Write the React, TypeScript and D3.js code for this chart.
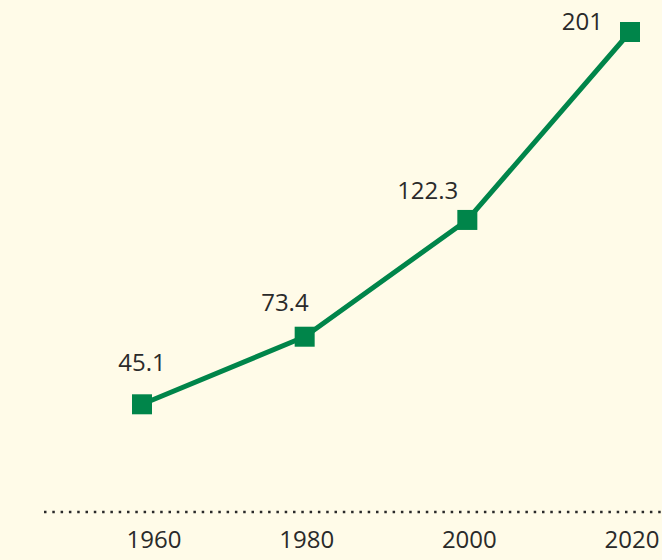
import React from "react";
import * as d3 from "d3";

// data
const years = [1960, 1980, 2000, 2020];
const values = [45.1, 73.4, 122.3, 201];
const valueLabels = ["45.1", "73.4", "122.3", "201"];

const width = 662;
const height = 560;
const margin = { top: 32, right: 32, bottom: 48, left: 142 };

// nudges for the value labels so they sit clear of the line
const labelNudge = [
  { dx: 0, dy: -33, anchor: "middle" },
  { dx: 4, dy: -26, anchor: "end" },
  { dx: -9, dy: -21, anchor: "end" },
  { dx: -27, dy: -2, anchor: "end" },
];

const green = "#00854a";
const ink = "#2a2a2a";
const font = "'Open Sans', 'DejaVu Sans', sans-serif";

const App = () => {
  const x = d3
    .scaleLinear()
    .domain(d3.extent(years) as [number, number])
    .range([margin.left, width - margin.right]);

  const y = d3
    .scaleLinear()
    .domain([0, d3.max(values) as number])
    .range([height - margin.bottom, margin.top]);

  const points = years.map((year, i) => ({ year, value: values[i], label: valueLabels[i] }));

  const line = d3
    .line<{ year: number; value: number }>()
    .x(d => x(d.year))
    .y(d => y(d.value));

  const baseY = y(0);
  const size = 20;

  return (
    <svg
      width={width}
      height={height}
      style={{ position: "fixed", top: 0, left: 0, background: "#fffbe8" }}
    >
      <rect width={width} height={height} fill="#fffbe8" />

      {/* dotted baseline */}
      <line
        x1={44}
        x2={width}
        y1={baseY}
        y2={baseY}
        stroke={ink}
        strokeWidth={2.5}
        strokeDasharray="2.5 5.8"
      />

      {/* x labels */}
      {years.map(year => (
        <text
          key={year}
          x={x(year) + (year === 1960 ? 12 : 2)}
          y={baseY + 36}
          textAnchor="middle"
          fontFamily={font}
          fontSize={24}
          fill={ink}
        >
          {year}
        </text>
      ))}

      <path d={line(points) ?? ""} fill="none" stroke={green} strokeWidth={5} strokeLinejoin="round" />

      {points.map(d => (
        <rect
          key={d.year}
          x={x(d.year) - size / 2}
          y={y(d.value) - size / 2}
          width={size}
          height={size}
          fill={green}
        />
      ))}

      {points.map((d, i) => (
        <text
          key={"l" + d.year}
          x={x(d.year) + labelNudge[i].dx}
          y={y(d.value) + labelNudge[i].dy}
          textAnchor={labelNudge[i].anchor}
          fontFamily={font}
          fontSize={24}
          fill={ink}
        >
          {d.label}
        </text>
      ))}
    </svg>
  );
};

export default App;
